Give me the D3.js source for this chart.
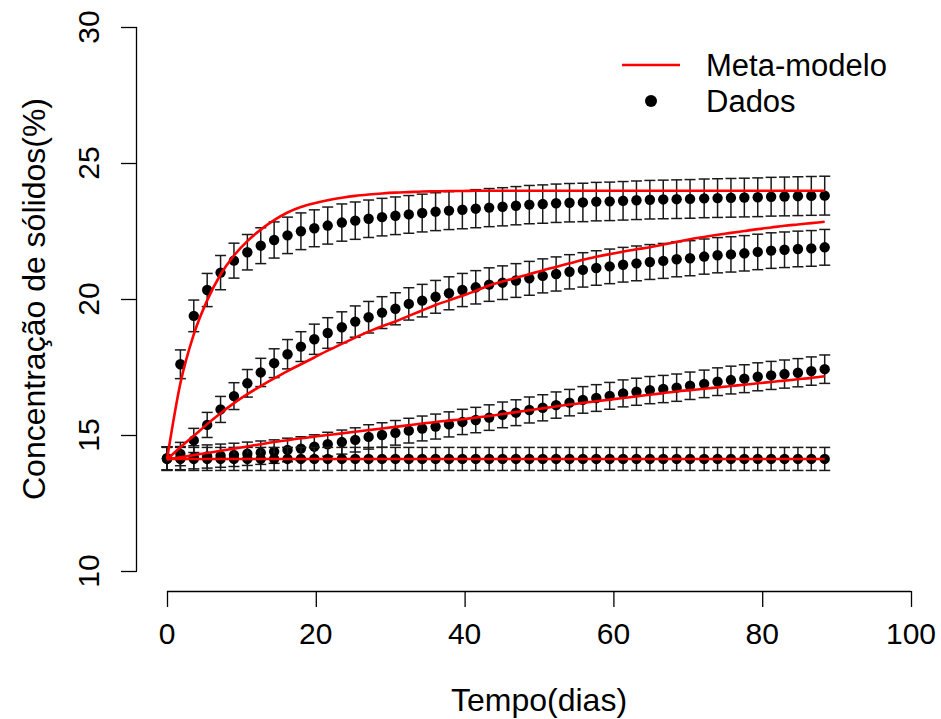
<!DOCTYPE html>
<html>
<head>
<meta charset="utf-8">
<script src="https://cdn.jsdelivr.net/npm/d3@7"></script>
<style>
  html, body { margin: 0; padding: 0; background: #fff; }
  svg { display: block; }
  text { font-family: "Liberation Sans", Arial, sans-serif; fill: #000; }
</style>
</head>
<body>
<svg id="chart" width="941" height="719"></svg>
<script>
// ---------------- DATA ----------------
const days = [0, 1.8, 3.6, 5.4, 7.2, 9.0, 10.8, 12.6, 14.4, 16.2,
  18.0, 19.8, 21.6, 23.5, 25.3, 27.1, 28.9, 30.7, 32.5, 34.3,
  36.1, 37.9, 39.7, 41.5, 43.3, 45.1, 46.9, 48.7, 50.5, 52.3,
  54.1, 55.9, 57.7, 59.5, 61.3, 63.1, 64.9, 66.7, 68.5, 70.3,
  72.2, 74.0, 75.8, 77.6, 79.4, 81.2, 83.0, 84.8, 86.6, 88.4];

// observed data ("Dados")
const dados1 = [14.14, 17.60, 19.38, 20.33, 20.97, 21.41, 21.72, 21.96, 22.17, 22.34,
  22.49, 22.60, 22.70, 22.81, 22.88, 22.95, 23.01, 23.06, 23.11, 23.16,
  23.21, 23.25, 23.28, 23.32, 23.36, 23.39, 23.43, 23.47, 23.49, 23.52,
  23.54, 23.55, 23.58, 23.59, 23.61, 23.63, 23.65, 23.66, 23.67, 23.68,
  23.70, 23.71, 23.72, 23.73, 23.74, 23.76, 23.77, 23.78, 23.79, 23.80];
const dados2 = [14.14, 14.30, 14.80, 15.37, 15.94, 16.43, 16.90, 17.30, 17.64, 17.97,
  18.25, 18.52, 18.75, 18.96, 19.17, 19.33, 19.50, 19.64, 19.82, 19.94,
  20.08, 20.21, 20.33, 20.43, 20.53, 20.60, 20.68, 20.76, 20.85, 20.92,
  21.00, 21.07, 21.14, 21.20, 21.26, 21.31, 21.36, 21.40, 21.46, 21.50,
  21.56, 21.61, 21.64, 21.68, 21.73, 21.78, 21.81, 21.84, 21.86, 21.90];
const dados3 = [14.14, 14.15, 14.18, 14.21, 14.24, 14.27, 14.31, 14.35, 14.39, 14.45,
  14.50, 14.57, 14.66, 14.74, 14.82, 14.93, 15.00, 15.08, 15.16, 15.24,
  15.31, 15.39, 15.48, 15.55, 15.64, 15.74, 15.82, 15.92, 16.00, 16.10,
  16.19, 16.29, 16.36, 16.44, 16.53, 16.59, 16.65, 16.69, 16.74, 16.81,
  16.88, 16.96, 17.02, 17.07, 17.14, 17.19, 17.24, 17.29, 17.35, 17.42];
const dados4 = [14.12, 14.12, 14.12, 14.12, 14.12, 14.12, 14.12, 14.12, 14.12, 14.12,
  14.12, 14.12, 14.12, 14.12, 14.12, 14.12, 14.12, 14.12, 14.12, 14.12,
  14.12, 14.12, 14.12, 14.12, 14.12, 14.12, 14.12, 14.12, 14.12, 14.12,
  14.12, 14.12, 14.12, 14.12, 14.12, 14.12, 14.12, 14.12, 14.12, 14.12,
  14.12, 14.12, 14.12, 14.12, 14.12, 14.12, 14.12, 14.12, 14.12, 14.12];

// relative error of the error bars (±3 %)
const errorFraction = 0.03;

// meta-model curves ("Meta-modelo")
const modelo1 = [14.10, 16.90, 18.70, 19.95, 20.90, 21.60, 22.13, 22.55, 22.90, 23.18,
  23.38, 23.52, 23.63, 23.72, 23.79, 23.84, 23.88, 23.91, 23.93, 23.95,
  23.96, 23.97, 23.97, 23.98, 23.98, 23.98, 23.98, 23.98, 23.98, 23.98,
  23.98, 23.98, 23.98, 23.98, 23.98, 23.98, 23.98, 23.98, 23.98, 23.98,
  23.98, 23.98, 23.98, 23.98, 23.98, 23.98, 23.98, 23.98, 23.98, 23.98];
const modelo2 = [14.10, 14.55, 14.97, 15.40, 15.80, 16.17, 16.50, 16.80, 17.08, 17.35,
  17.60, 17.85, 18.10, 18.35, 18.58, 18.80, 19.00, 19.17, 19.38, 19.58,
  19.78, 19.95, 20.12, 20.30, 20.50, 20.64, 20.78, 20.91, 21.05, 21.18,
  21.31, 21.44, 21.55, 21.65, 21.74, 21.83, 21.90, 22.00, 22.10, 22.20,
  22.28, 22.36, 22.43, 22.50, 22.57, 22.63, 22.69, 22.74, 22.79, 22.84];
const modelo3 = [14.10, 14.18, 14.26, 14.34, 14.42, 14.50, 14.58, 14.66, 14.74, 14.81,
  14.88, 14.94, 15.00, 15.06, 15.12, 15.18, 15.24, 15.30, 15.36, 15.42,
  15.48, 15.53, 15.58, 15.64, 15.70, 15.77, 15.84, 15.91, 15.98, 16.05,
  16.12, 16.18, 16.24, 16.30, 16.36, 16.42, 16.48, 16.54, 16.60, 16.65,
  16.70, 16.75, 16.80, 16.85, 16.90, 16.95, 17.00, 17.05, 17.10, 17.16];
const modelo4 = [14.12, 14.12, 14.12, 14.12, 14.12, 14.12, 14.12, 14.12, 14.12, 14.12,
  14.12, 14.12, 14.12, 14.12, 14.12, 14.12, 14.12, 14.12, 14.12, 14.12,
  14.12, 14.12, 14.12, 14.12, 14.12, 14.12, 14.12, 14.12, 14.12, 14.12,
  14.12, 14.12, 14.12, 14.12, 14.12, 14.12, 14.12, 14.12, 14.12, 14.12,
  14.12, 14.12, 14.12, 14.12, 14.12, 14.12, 14.12, 14.12, 14.12, 14.12];

const xTicks = [0, 20, 40, 60, 80, 100];
const yTicks = [10, 15, 20, 25, 30];
const xTitle = "Tempo(dias)";
const yTitle = "Concentração de sólidos(%)";
const legendLabels = ["Meta-modelo", "Dados"];

// ---------------- CHART ----------------
const svg = d3.select("#chart");
const x = d3.scaleLinear().domain([0, 100]).range([167, 911]);
const y = d3.scaleLinear().domain([10, 30]).range([571, 27]);
const FONT = 30, TITLE_FONT = 32, LEGEND_FONT = 31;

// Y axis (R style, detached)
const yAxisG = svg.append("g").attr("transform", "translate(137,0)");
yAxisG.call(d3.axisLeft(y).tickValues(yTicks).tickSize(16).tickFormat(""));
yAxisG.select(".domain").attr("d", `M-0.5,${y(10)}V${y(30)}`).attr("stroke", "#000").attr("stroke-width", 1.3);
yAxisG.selectAll(".tick line").attr("stroke", "#000").attr("stroke-width", 1.3);
svg.append("g").selectAll("text").data(yTicks).join("text")
  .attr("transform", d => `translate(99,${y(d)}) rotate(-90)`)
  .attr("text-anchor", "middle")
  .attr("font-size", FONT)
  .text(d => d);

// X axis
const xAxisG = svg.append("g").attr("transform", "translate(0,591)");
xAxisG.call(d3.axisBottom(x).tickValues(xTicks).tickSize(16).tickFormat(""));
xAxisG.select(".domain").attr("d", `M${x(0)},0.5H${x(100)}`).attr("stroke", "#000").attr("stroke-width", 1.3);
xAxisG.selectAll(".tick line").attr("stroke", "#000").attr("stroke-width", 1.3);
svg.append("g").selectAll("text").data(xTicks).join("text")
  .attr("x", d => x(d)).attr("y", 644)
  .attr("text-anchor", "middle")
  .attr("font-size", FONT)
  .text(d => d);

// titles
svg.append("text").attr("x", (x(0) + x(100)) / 2).attr("y", 711)
  .attr("text-anchor", "middle").attr("font-size", TITLE_FONT).text(xTitle);
svg.append("text").attr("transform", `translate(45,${(y(10) + y(30)) / 2}) rotate(-90)`)
  .attr("text-anchor", "middle").attr("font-size", TITLE_FONT).text(yTitle);

// data series with error bars
const dataSeries = [dados1, dados2, dados3, dados4];
const CAP = 5.5;
const gData = svg.append("g");
dataSeries.forEach(vals => {
  const pts = vals.map((v, i) => ({ t: days[i], v }));
  const g = gData.append("g");
  g.selectAll("line.stem").data(pts).join("line")
    .attr("x1", d => x(d.t)).attr("x2", d => x(d.t))
    .attr("y1", d => y(d.v * (1 - errorFraction)))
    .attr("y2", d => y(d.v * (1 + errorFraction)))
    .attr("stroke", "#1a1a1a").attr("stroke-width", 1.5);
  ["lo", "hi"].forEach(k => {
    const f = k === "lo" ? (1 - errorFraction) : (1 + errorFraction);
    g.selectAll("line.cap" + k).data(pts).join("line")
      .attr("x1", d => x(d.t) - CAP).attr("x2", d => x(d.t) + CAP)
      .attr("y1", d => y(d.v * f)).attr("y2", d => y(d.v * f))
      .attr("stroke", "#1a1a1a").attr("stroke-width", 1.5);
  });
  g.selectAll("circle").data(pts).join("circle")
    .attr("cx", d => x(d.t)).attr("cy", d => y(d.v)).attr("r", 5.2)
    .attr("fill", "#000");
});

// model lines
const modelSeries = [modelo1, modelo2, modelo3, modelo4];
const line = d3.line().x(d => x(d.t)).y(d => y(d.v)).curve(d3.curveMonotoneX);
modelSeries.forEach(vals => {
  const pts = vals.map((v, i) => ({ t: days[i], v }));
  svg.append("path").datum(pts).attr("d", line)
    .attr("fill", "none").attr("stroke", "#ff0000").attr("stroke-width", 2.6)
    .attr("stroke-linejoin", "round");
});

// legend
const leg = svg.append("g");
leg.append("line").attr("x1", 622).attr("x2", 680).attr("y1", 65).attr("y2", 65)
  .attr("stroke", "#ff0000").attr("stroke-width", 2.6);
leg.append("circle").attr("cx", 651).attr("cy", 101).attr("r", 6).attr("fill", "#000");
leg.append("text").attr("x", 706).attr("y", 76).attr("font-size", LEGEND_FONT).text(legendLabels[0]);
leg.append("text").attr("x", 706).attr("y", 112).attr("font-size", LEGEND_FONT).text(legendLabels[1]);
</script>
</body>
</html>
